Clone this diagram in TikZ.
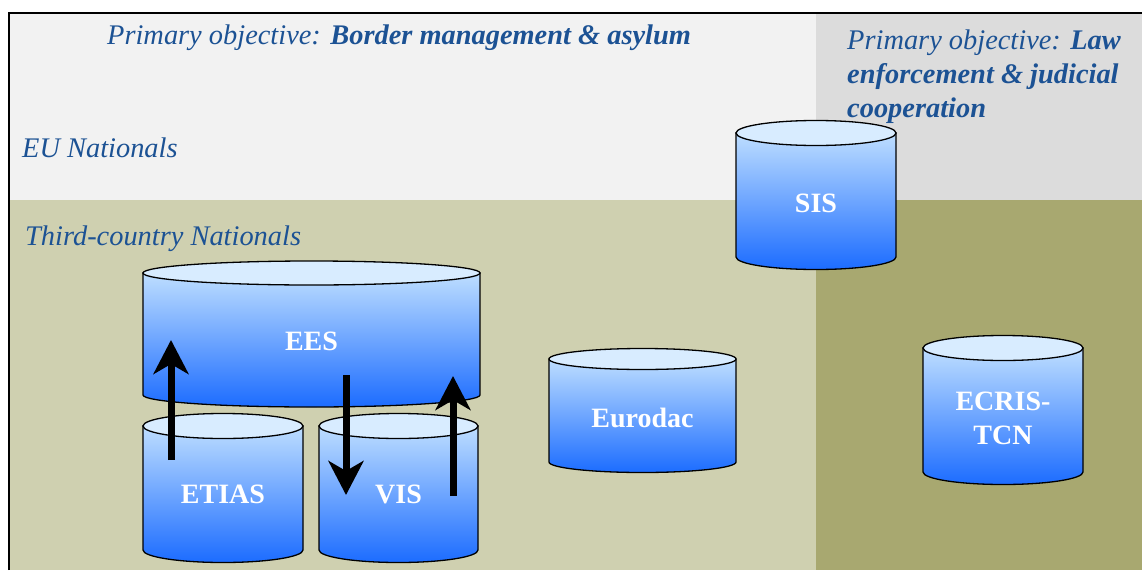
\documentclass[tikz,border=0pt]{standalone}
\usepackage{fontspec}
\setmainfont{Liberation Serif}
\usetikzlibrary{arrows.meta}
\definecolor{txtblue}{RGB}{28,82,148}
\definecolor{bgA}{RGB}{242,242,242}
\definecolor{bgB}{RGB}{220,220,220}
\definecolor{bgC}{RGB}{207,208,176}
\definecolor{bgD}{RGB}{168,168,112}
\definecolor{cyltop}{RGB}{216,236,255}
\definecolor{cylhi}{RGB}{190,222,255}
\definecolor{cyllo}{RGB}{28,108,255}
% #1 cx, #2 rx, #3 top y, #4 bottom y, #5 ry
\newcommand\drawcyl[5]{%
  \path[cylbody] (#1-#2,#3) -- (#1-#2,#4)
    arc[start angle=180,end angle=360,x radius=#2pt,y radius=#5pt]
    -- (#1+#2,#3) -- cycle;
  \draw[cylend] (#1,#3) ellipse[x radius=#2pt,y radius=#5pt];
}
\begin{document}
\begin{tikzpicture}[x=1pt,y=-1pt,
  cylbody/.style={draw=black,line width=1.3pt,shade,top color=cylhi,bottom color=cyllo},
  cylend/.style={draw=black,line width=1.3pt,fill=cyltop},
  ttl/.style={inner sep=0pt,text=txtblue,font=\itshape\fontsize{28.4}{34}\selectfont},
  cyllabel/.style={inner sep=0pt,text=white,font=\bfseries\fontsize{28}{34}\selectfont,align=center},
  bigarrow/.style={line width=7pt,-{Stealth[length=34pt,width=35pt,inset=10pt]}}]
\useasboundingbox (0,0) rectangle (1142,570);
% backgrounds
\fill[bgA] (9,13) rectangle (816,200);
\fill[bgB] (816,13) rectangle (1142,200);
\fill[bgC] (9,200) rectangle (816,570);
\fill[bgD] (816,200) rectangle (1142,570);
\draw[line width=1.6pt] (9,570) -- (9,13) -- (1142,13);
% titles
\node[ttl,anchor=base west] (t1) at (107,44) {Primary objective: \textbf{Border management \& asylum}};
\node[ttl,anchor=north west,align=left] (t2) at (847,30) {Primary objective: \textbf{Law}\\\textbf{enforcement \& judicial}\\\textbf{cooperation}};
\node[ttl,anchor=base west] (eu) at (22,157) {EU Nationals};
\node[ttl,anchor=base west] (tc) at (25,245) {Third-country Nationals};
% cylinders
\drawcyl{311.5}{168.5}{273}{395}{12}
\drawcyl{223}{80}{426}{550}{12.5}
\drawcyl{398.5}{79.5}{426}{550}{12.5}
\drawcyl{642.5}{93.5}{359}{462}{10.5}
\drawcyl{816}{80}{133}{257}{12.5}
\drawcyl{1003}{80}{348}{472}{12.5}
\node[cyllabel,anchor=base] (ees) at (311.5,350) {EES};
\node[cyllabel,anchor=base] (etias) at (223,503) {ETIAS};
\node[cyllabel,anchor=base] (vis) at (398.5,503) {VIS};
\node[cyllabel,anchor=base] (eurodac) at (642.5,427) {Eurodac};
\node[cyllabel,anchor=base] (sis) at (816,212) {SIS};
\node[cyllabel] (ecris) at (1003,418) {ECRIS-\\TCN};
% arrows
\coordinate (a1s) at (171,460); \coordinate (a1e) at (171,340);
\coordinate (a2s) at (346,375); \coordinate (a2e) at (346,495);
\coordinate (a3s) at (453,496); \coordinate (a3e) at (453,376);
\draw[bigarrow] (a1s) -- (a1e);
\draw[bigarrow] (a2s) -- (a2e);
\draw[bigarrow] (a3s) -- (a3e);
\end{tikzpicture}
\end{document}
